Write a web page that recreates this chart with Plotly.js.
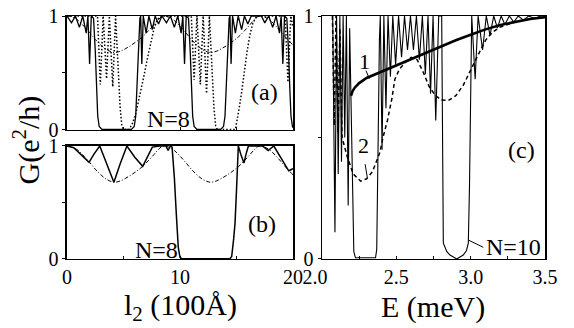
<!DOCTYPE html>
<html><head><meta charset="utf-8">
<script src="https://cdn.plot.ly/plotly-3.0.1.min.js"></script>
<style>html,body{margin:0;padding:0;background:#fff}#plot{width:574px;height:328px}</style>
</head><body><div id="plot"></div>
<script>
// ---- data: panel (a) & (b), x = l2 (100 Å), y = G (e^2/h)
const envL = [0,0.5,1,1.5,2,2.5,3,3.5,4.15,4.7,5.2,5.7,6.2,6.7,7.2,7.7,8.1,8.5,9.0,9.5,10,10.5,11,11.5,12,12.65,13.2,13.7,14.2,14.7,15.2,15.7,16.2,16.6,17.0,17.5,18,18.5,19,19.5,20];
const envG = [1.0,0.99,0.96,0.91,0.855,0.795,0.745,0.705,0.68,0.69,0.715,0.745,0.78,0.82,0.87,0.925,0.97,1.0,0.99,0.96,0.91,0.855,0.795,0.745,0.705,0.68,0.69,0.715,0.745,0.78,0.82,0.87,0.925,0.97,1.0,0.99,0.96,0.91,0.855,0.795,0.745];

const aL = [0,0.4,0.75,1.1,1.4,1.7,1.85,2.0,2.15,2.35,2.5,2.62,2.72,2.85,3.1,5.7,5.95,6.08,6.18,6.3,6.45,6.52,6.62,6.75,7.0,7.25,7.55,7.8,8.1,8.4,
            8.8,9.15,9.5,9.8,10.1,10.25,10.4,10.55,10.75,10.9,11.02,11.12,11.25,11.5,13.6,13.85,13.98,14.08,14.2,14.35,14.42,14.52,14.65,14.9,15.15,15.45,15.7,16.0,16.3,
            17.2,17.5,17.85,18.2,18.5,18.8,18.95,19.1,19.25,19.45,19.6,19.72,19.82,19.95,20];
const aG = [1.0,0.94,1.0,0.9,1.0,0.85,1.0,0.58,1.0,0.98,0.7,0.35,0.12,0.03,0.005,0.005,0.03,0.12,0.35,0.7,0.98,1.0,0.58,1.0,0.85,1.0,0.88,1.0,0.93,1.0,
            0.94,1.0,0.9,1.0,0.85,1.0,0.58,1.0,0.98,0.7,0.35,0.12,0.03,0.005,0.005,0.03,0.12,0.35,0.7,0.98,1.0,0.58,1.0,0.85,1.0,0.88,1.0,0.93,1.0,
            1.0,0.94,1.0,0.9,1.0,0.85,1.0,0.58,1.0,0.98,0.7,0.35,0.12,0.03,0.02];

const aDotL = [0,2.7,2.95,3.2,3.5,3.75,4.05,4.3,4.5,4.7,4.85,5.0,5.5,5.8,6.1,6.45,6.8,7.1,7.4,7.7,8.0,8.3,
               11.0,11.25,11.5,11.8,12.05,12.35,12.6,12.8,13.0,13.15,13.3,14.9,15.05,15.25,15.45,15.7,15.95,16.2,16.45,16.8,19.3,19.55,19.8,20];
const aDotG = [1,1,0.4,1,0.45,1,0.38,1,0.6,0.2,0.04,0.005,0.005,0.06,0.15,0.3,0.47,0.62,0.77,0.89,0.97,1,
               1,0.44,1,0.4,1,0.32,1,0.6,0.2,0.04,0.005,0.005,0.08,0.2,0.33,0.52,0.7,0.84,0.94,1,1,0.42,1,0.9];

const bL = [0,0.6,1.95,2.4,2.9,3.5,4.15,4.7,5.3,6.0,6.7,7.1,7.55,8.2,8.75,8.95,9.15,9.3,9.5,9.7,9.85,10.0,10.2,14.4,14.57,14.75,14.87,15.0,15.16,15.4,15.66,15.85,16.05,17.3,17.8,18.3,18.9,19.3,19.62,19.8,20];
const bG = [1.0,0.985,0.855,0.93,1.0,0.84,0.68,0.84,1.0,0.9,0.82,0.9,0.99,1.0,1.0,0.96,1.0,0.99,0.72,0.35,0.1,0.015,0.002,0.002,0.02,0.18,0.32,0.61,1.0,0.92,0.85,0.93,1.0,1.0,0.96,1.0,0.9,0.84,0.78,0.79,0.8];

// ---- data: panel (c), x = E (meV)
const c1E = [2.195,2.205,2.22,2.25,2.3,2.35,2.4,2.5,2.6,2.7,2.8,2.9,3.0,3.1,3.2,3.3,3.4,3.5];
const c1G = [0.672,0.69,0.705,0.724,0.745,0.758,0.77,0.795,0.82,0.848,0.875,0.90,0.923,0.945,0.963,0.977,0.988,0.995];

const c2E = [2.07,2.082,2.094,2.108,2.12,2.135,2.17,2.21,2.26,2.3,2.34,2.39,2.41,2.44,2.47,2.49,2.52,2.56,2.6,2.64,2.68,2.72,2.76,2.8,2.85,2.9,2.95,3.0,3.05,3.1,3.15,3.2,3.3,3.4,3.5];
const c2G = [1.0,0.55,1.0,0.52,0.95,0.5,0.42,0.35,0.32,0.33,0.36,0.44,0.5,0.57,0.66,0.74,0.78,0.81,0.83,0.82,0.77,0.71,0.675,0.655,0.652,0.672,0.715,0.78,0.84,0.9,0.935,0.955,0.975,0.988,0.995];

const c3E = [2.072,2.087,2.098,2.109,2.12,2.131,2.142,2.153,2.164,2.176,2.186,2.196,2.206,2.214,2.225,2.36,2.368,2.374,2.38,2.386,2.392,2.404,2.416,2.43,2.444,2.46,2.476,2.495,2.515,2.535,2.555,2.575,2.595,2.615,2.635,2.655,2.675,2.695,2.713,2.73,2.747,2.765,2.785,2.805,2.816,2.84,2.861,2.906,2.95,2.972,2.984,2.992,3.0,3.007,3.03,3.05,3.08,3.105,3.13,3.155,3.18,3.205,3.23,3.26,3.29,3.32,3.355,3.39,3.43,3.47,3.5];
const c3G = [1.0,0.11,1.0,0.35,1.0,0.4,1.0,0.5,1.0,0.22,0.95,0.6,0.2,0.03,0.005,0.005,0.04,0.25,0.6,0.9,1.0,0.45,1.0,0.62,1.0,0.75,1.0,0.8,1.0,0.83,1.0,0.86,1.0,0.86,1.0,0.82,1.0,0.76,1.0,0.68,1.0,0.57,1.0,1.0,0.065,0.03,0.016,0.0,0.016,0.035,0.065,0.3,0.7,1.0,0.74,1.0,0.86,1.0,0.92,1.0,0.95,1.0,0.965,1.0,0.975,1.0,0.983,1.0,0.99,1.0,1.0];

// ---- ticks
const lTicks = [0,5,10,15,20];
const lTickTextB = ['0','','10','','20'];
const gTicks = [0,0.5,1];
const gTickText = ['0','','1'];
const eTicks = [2.0,2.25,2.5,2.75,3.0,3.25,3.5];
const eTickText = ['2.0\u2007\u2009','','2.5','','3.0','','3.5'];

const FONT = 'Liberation Serif, Times New Roman, serif';
const K = '#000';

const traces = [
  {x: envL, y: envG, xaxis:'x', yaxis:'y', mode:'lines', line:{color:K, width:1, dash:'4px,2px,1px,2px', shape:'spline'}},
  {x: aDotL, y: aDotG, xaxis:'x', yaxis:'y', mode:'lines', line:{color:K, width:1.5, dash:'1.5px,2px'}},
  {x: aL, y: aG, xaxis:'x', yaxis:'y', mode:'lines', line:{color:K, width:1.3}},
  {x: envL, y: envG, xaxis:'x2', yaxis:'y2', mode:'lines', line:{color:K, width:1, dash:'4px,2px,1px,2px', shape:'spline'}},
  {x: bL, y: bG, xaxis:'x2', yaxis:'y2', mode:'lines', line:{color:K, width:1.5}},
  {x: c2E, y: c2G, xaxis:'x3', yaxis:'y3', mode:'lines', line:{color:K, width:1.5, dash:'4px,3px'}},
  {x: c3E, y: c3G, xaxis:'x3', yaxis:'y3', mode:'lines', line:{color:K, width:1.1}},
  {x: c1E, y: c1G, xaxis:'x3', yaxis:'y3', mode:'lines', line:{color:K, width:2.6}}
];

function ax(extra){
  return Object.assign({showgrid:false, zeroline:false, showline:true, mirror:true, linecolor:K, linewidth:1.5,
    tickcolor:K, tickwidth:1, ticklen:3, tickmode:'array', tickfont:{family:FONT, size:20, color:K}, fixedrange:true}, extra);
}
function note(text, x, y, size, extra){
  return Object.assign({text:text, xref:'paper', yref:'paper', x:x, y:y, xanchor:'center', yanchor:'middle',
    showarrow:false, borderpad:0, font:{family:FONT, size:size, color:K}}, extra || {});
}

const dA = [0.1167,0.5105], dC = [0.561,0.9495];
const layout = {
  width:574, height:328, margin:{l:0,r:0,t:0,b:0}, showlegend:false,
  paper_bgcolor:'#fff', plot_bgcolor:'#fff', font:{family:FONT, color:K},
  xaxis: ax({domain:dA, anchor:'y', range:[0,20], tickvals:lTicks, showticklabels:false, ticks:'inside'}),
  yaxis: ax({domain:[0.6037,0.9512], anchor:'x', range:[0,1], tickvals:gTicks, ticktext:gTickText, ticks:'outside'}),
  xaxis2: ax({domain:dA, anchor:'y2', range:[0,20], tickvals:lTicks, ticktext:lTickTextB, ticks:'inside'}),
  yaxis2: ax({domain:[0.2104,0.5549], anchor:'x2', range:[0,1], tickvals:gTicks, ticktext:gTickText, ticks:'outside'}),
  xaxis3: ax({domain:dC, anchor:'y3', range:[2,3.5], tickvals:eTicks, ticktext:eTickText, ticks:'inside'}),
  yaxis3: ax({domain:[0.2104,0.9512], anchor:'x3', range:[0,1], tickvals:gTicks, ticktext:gTickText, ticks:'outside'}),
  shapes: [
    {type:'line', xref:'x3', yref:'y3', x0:2.296, y0:0.775, x1:2.318, y1:0.742, line:{color:K, width:1}},
    {type:'line', xref:'x3', yref:'y3', x0:2.29, y0:0.39, x1:2.305, y1:0.335, line:{color:K, width:1}},
    {type:'line', xref:'x3', yref:'y3', x0:2.984, y0:0.078, x1:3.085, y1:0.048, line:{color:K, width:1}}
  ],
  annotations: [
    note('G(e<sup>2</sup>/h)', 0.046, 0.573, 30, {textangle:-90}),
    note('l<sub>2</sub> (100Å)', 0.3136, 0.064, 30),
    note('E (meV)', 0.7544, 0.064, 30),
    note('(a)', 0.46, 0.7195, 24),
    note('N=8', 0.2927, 0.637, 24),
    note('(b)', 0.4564, 0.317, 24),
    note('N=8', 0.2735, 0.2378, 24),
    note('(c)', 0.9077, 0.5427, 24),
    note('1', 0.635, 0.811, 22),
    note('2', 0.6341, 0.555, 22),
    note('N=10', 0.8946, 0.247, 24)
  ]
};

Plotly.newPlot('plot', traces, layout, {staticPlot:true, displayModeBar:false});
</script>
</body></html>
